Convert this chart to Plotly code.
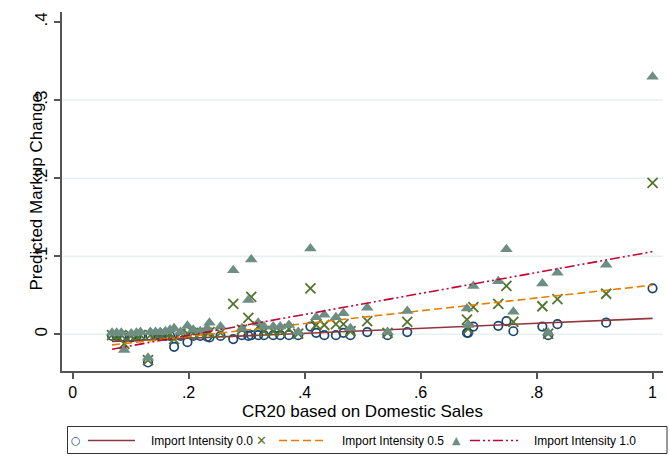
import plotly.graph_objects as go

# ---- data ----
cr20 = [0.068, 0.076, 0.084, 0.089, 0.101, 0.110, 0.117, 0.130, 0.134, 0.143,
        0.151, 0.160, 0.168, 0.175, 0.186, 0.198, 0.208, 0.220, 0.232, 0.236,
        0.255, 0.277, 0.292, 0.303, 0.308, 0.320, 0.330, 0.346, 0.358, 0.373,
        0.389, 0.410, 0.420, 0.434, 0.454, 0.467, 0.479, 0.508, 0.543, 0.577,
        0.680, 0.682, 0.691, 0.734, 0.748, 0.760, 0.810, 0.820, 0.836, 0.920,
        1.000]
ii00 = [-0.002, -0.002, -0.003, -0.004, -0.004, -0.003, -0.002, -0.036, -0.002, -0.001,
        -0.001, -0.002, -0.002, -0.016, -0.002, -0.010, -0.002, -0.002, -0.003, -0.004,
        -0.002, -0.006, -0.001, -0.002, -0.001, -0.001, -0.001, -0.001, -0.001, -0.001,
        -0.001, 0.010, 0.002, -0.001, -0.001, 0.002, -0.001, 0.003, -0.001, 0.003,
        0.002, 0.002, 0.010, 0.011, 0.017, 0.004, 0.010, -0.001, 0.013, 0.015,
        0.059]
ii05 = [-0.001, -0.001, -0.001, -0.012, -0.002, -0.001, -0.001, -0.033, -0.001, 0.001,
        0.001, 0.001, 0.001, -0.006, 0.001, 0.001, 0.002, 0.002, 0.002, 0.003,
        0.002, 0.039, 0.006, 0.021, 0.048, 0.010, 0.004, 0.004, 0.004, 0.007,
        0.001, 0.059, 0.012, 0.012, 0.013, 0.013, 0.004, 0.017, 0.002, 0.016,
        0.019, 0.007, 0.035, 0.039, 0.062, 0.016, 0.036, 0.001, 0.045, 0.052,
        0.194]
ii10 = [0.002, 0.002, 0.002, -0.020, 0.001, 0.002, 0.003, -0.030, 0.003, 0.003,
        0.003, 0.004, 0.006, 0.008, 0.003, 0.011, 0.006, 0.004, 0.008, 0.015,
        0.010, 0.082, 0.008, 0.044, 0.096, 0.015, 0.010, 0.010, 0.010, 0.012,
        0.003, 0.110, 0.022, 0.025, 0.022, 0.027, 0.008, 0.034, 0.003, 0.030,
        0.033, 0.012, 0.062, 0.068, 0.109, 0.029, 0.065, 0.002, 0.079, 0.089,
        0.330]

fit_x = [0.068, 1.0]
fit00 = [-0.0092, 0.0205]
fit05 = [-0.0135, 0.063]
fit10 = [-0.0190, 0.106]

series_names = ["Import Intensity 0.0", "Import Intensity 0.5", "Import Intensity 1.0"]
x_ticks = [0, 0.2, 0.4, 0.6, 0.8, 1]
x_tick_labels = ["0", ".2", ".4", ".6", ".8", "1"]
y_ticks = [0, 0.1, 0.2, 0.3, 0.4]
y_tick_labels = ["0", ".1", ".2", ".3", ".4"]
grid_y = [0, 0.1, 0.2, 0.3]

# ---- styling ----
NAVY = "#1A476F"
GREEN = "#55752F"
TEAL = "#6E8E84"
MAROON = "#90353B"
ORANGE = "#E37E00"
CRAN = "#C10534"
FONT = "Liberation Sans, Arial, sans-serif"
DASH05 = "8px,4px"
DASH10 = "10px,3px,2px,3px,2px,3px"

W, H = 670, 457
ML, MR, MT, MB = 62, 7, 12, 86
PW, PH = W - ML - MR, H - MT - MB


def px2x(px):
    return (px - ML) / PW


def py2y(py):
    return (H - MB - py) / PH


fig = go.Figure()

fig.add_trace(go.Scatter(x=cr20, y=ii00, mode="markers", name="",
                         marker=dict(symbol="circle-open", size=8.5, color=NAVY,
                                     line=dict(width=1.7, color=NAVY))))
fig.add_trace(go.Scatter(x=fit_x, y=fit00, mode="lines", name=series_names[0],
                         line=dict(color=MAROON, width=1.6)))
fig.add_trace(go.Scatter(x=cr20, y=ii05, mode="markers", name="",
                         marker=dict(symbol="x-thin", size=10, color=GREEN,
                                     line=dict(width=1.8, color=GREEN))))
fig.add_trace(go.Scatter(x=fit_x, y=fit05, mode="lines", name=series_names[1],
                         line=dict(color=ORANGE, width=1.6, dash=DASH05)))
fig.add_trace(go.Scatter(x=cr20, y=ii10, mode="markers", name="",
                         marker=dict(symbol="triangle-up", size=11, color=TEAL,
                                     line=dict(width=0))))
fig.add_trace(go.Scatter(x=fit_x, y=fit10, mode="lines", name=series_names[2],
                         line=dict(color=CRAN, width=1.6, dash=DASH10)))

shapes = []
for gy in grid_y:
    shapes.append(dict(type="line", xref="paper", yref="y", x0=0, x1=1, y0=gy, y1=gy,
                       line=dict(color="#E8EFF2", width=1.5), layer="below"))

annotations = [
    dict(text="CR20 based on Domestic Sales", xref="paper", yref="paper", x=0.5, y=0,
         xanchor="center", yanchor="middle", yshift=-40, showarrow=False,
         font=dict(size=17, family=FONT)),
    dict(text="Predicted Markup Change", xref="paper", yref="paper", x=0, y=0.5,
         xanchor="center", yanchor="middle", xshift=-26, textangle=-90, showarrow=False,
         font=dict(size=17, family=FONT)),
]

# ---- legend (Stata style: marker key, line key, label) ----
LEG_BOX = (67.5, 426.5, 667, 453.5)
ROW_Y = 440.5
shapes.append(dict(type="rect", xref="paper", yref="paper",
                   x0=px2x(LEG_BOX[0]), x1=px2x(LEG_BOX[2]),
                   y0=py2y(LEG_BOX[3]), y1=py2y(LEG_BOX[1]),
                   line=dict(color="#333333", width=1), fillcolor="rgba(0,0,0,0)"))
legend_keys = [
    # (marker glyph, marker colour, glyph size, marker x, line x0, line x1, line colour, dash, text x)
    ("○", NAVY, 11, 76, 88, 135, MAROON, "solid", 149),
    ("✕", GREEN, 13, 261, 279, 327, ORANGE, DASH05, 340),
    ("▲", TEAL, 11, 456, 470, 518, CRAN, DASH10, 532),
]
for (glyph, mcol, gsize, mx, lx0, lx1, lcol, ldash, tx), name in zip(legend_keys, series_names):
    annotations.append(dict(text=glyph, xref="paper", yref="paper", x=px2x(mx), y=py2y(ROW_Y),
                            xanchor="center", yanchor="middle", showarrow=False,
                            font=dict(size=gsize, color=mcol, family="DejaVu Sans")))
    shapes.append(dict(type="line", xref="paper", yref="paper", x0=px2x(lx0), x1=px2x(lx1),
                       y0=py2y(ROW_Y), y1=py2y(ROW_Y), line=dict(color=lcol, width=1.6, dash=ldash)))
    annotations.append(dict(text=name, xref="paper", yref="paper", x=px2x(tx), y=py2y(ROW_Y),
                            xanchor="left", yanchor="middle", showarrow=False,
                            font=dict(size=12, family=FONT, color="#000000")))

fig.update_layout(
    width=W, height=H,
    margin=dict(l=ML, r=MR, t=MT, b=MB),
    paper_bgcolor="white", plot_bgcolor="white",
    font=dict(family=FONT, color="#000000"),
    showlegend=False,
    xaxis=dict(range=[-0.0183, 1.018], tickmode="array", tickvals=x_ticks, ticktext=x_tick_labels,
               showgrid=False, zeroline=False, showline=True, linecolor="#555555", linewidth=1.5,
               ticks="outside", ticklen=6, tickwidth=1.5, tickcolor="#555555",
               tickfont=dict(size=16, family=FONT)),
    yaxis=dict(range=[-0.0469, 0.4128], tickmode="array", tickvals=y_ticks, ticktext=y_tick_labels,
               showgrid=False, zeroline=False, showline=True, linecolor="#555555", linewidth=1.5,
               ticks="outside", ticklen=6, tickwidth=1.5, tickcolor="#555555", tickangle=-90,
               tickfont=dict(size=17, family=FONT)),
    shapes=shapes,
    annotations=annotations,
)

fig.write_html("out.html", config={"displayModeBar": False},
               post_script="document.body.style.margin='0px';")
